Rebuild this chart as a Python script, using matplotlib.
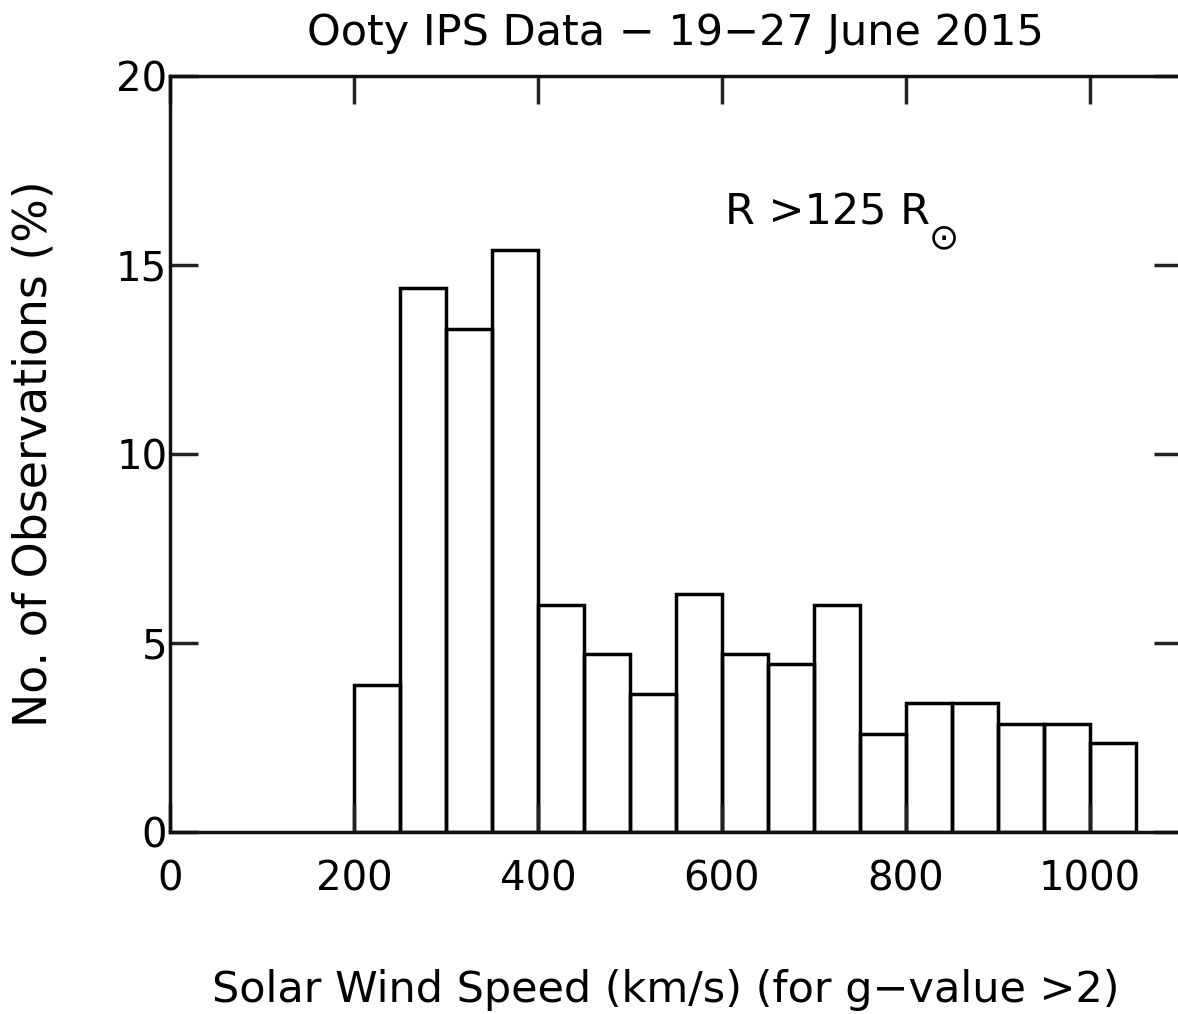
import matplotlib.pyplot as plt

# Ooty IPS speed distribution, 50 km/s bins
bin_left = [200, 250, 300, 350, 400, 450, 500, 550, 600, 650,
            700, 750, 800, 850, 900, 950, 1000]
percent = [3.9, 14.4, 13.3, 15.4, 6.0, 4.7, 3.65, 6.3, 4.7, 4.45,
           6.0, 2.6, 3.4, 3.4, 2.85, 2.85, 2.35]
bin_width = 50

fig = plt.figure(figsize=(11.78, 10.14), dpi=100)
ax = fig.add_axes([0.1443, 0.1795, 0.859, 0.7456])

ax.bar(bin_left, percent, width=bin_width, align='edge',
       fill=False, edgecolor='black', linewidth=2.5)

ax.set_xlim(0, 1100)
ax.set_ylim(0, 20)
ax.set_xticks([0, 200, 400, 600, 800, 1000])
ax.set_yticks([0, 5, 10, 15, 20])
ax.tick_params(direction='in', length=20, width=2.5, labelsize=29,
               top=True, right=True, color='#222222')
ax.tick_params(axis='x', pad=20)
ax.tick_params(axis='y', pad=2)
for s in ax.spines.values():
    s.set_linewidth(2.5)
    s.set_color('#111111')

ax.set_title('Ooty IPS Data \u2212 19\u221227 June 2015', fontsize=31, pad=22)
ax.set_xlabel('Solar Wind Speed (km/s) (for g\u2212value >2)', fontsize=31,
              va='center')
ax.xaxis.set_label_coords(0.49, -0.209)
ax.set_ylabel('No. of Observations (%)', fontsize=33, va='center')
ax.yaxis.set_label_coords(-0.134, 0.5)

# distance label with solar-radius symbol as subscript
lbl = ax.text(603, 16.4, 'R >125 R', fontsize=31, ha='left', va='center')
ax.annotate('\u2299', xy=(1, 0), xycoords=lbl, xytext=(-1, -4),
            textcoords='offset points', fontsize=26, ha='left', va='center')

fig.savefig('out.png', dpi=100)
